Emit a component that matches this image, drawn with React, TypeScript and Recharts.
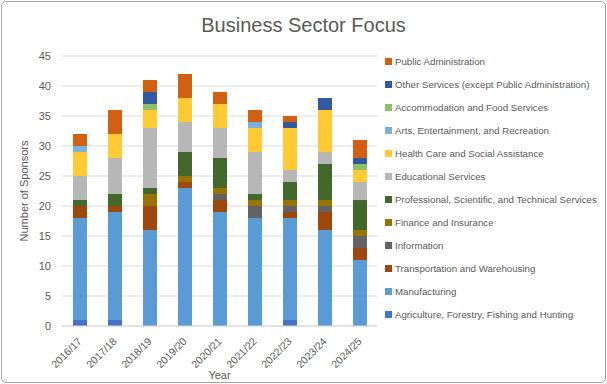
import { Bar, BarChart, CartesianGrid, Label, XAxis, YAxis } from 'recharts';

const years = ['2016/17', '2017/18', '2018/19', '2019/20', '2020/21', '2021/22', '2022/23', '2023/24', '2024/25'];

const agriculture = [1, 1, 0, 0, 0, 0, 1, 0, 0];
const manufacturing = [17, 18, 16, 23, 19, 18, 17, 16, 11];
const transportation = [2, 1, 4, 1, 2, 0, 1, 3, 2];
const information = [0, 0, 0, 0, 1, 2, 1, 1, 2];
const finance = [0, 0, 2, 1, 1, 1, 1, 1, 1];
const professional = [1, 2, 1, 4, 5, 1, 3, 6, 5];
const educational = [4, 6, 10, 5, 5, 7, 2, 2, 3];
const healthCare = [4, 4, 3, 4, 4, 4, 7, 7, 2];
const arts = [1, 0, 0, 0, 0, 1, 0, 0, 0];
const accommodation = [0, 0, 1, 0, 0, 0, 0, 0, 1];
const otherServices = [0, 0, 2, 0, 0, 0, 1, 2, 1];
const publicAdmin = [2, 4, 2, 4, 2, 2, 1, 0, 3];

const yTicks = [0, 5, 10, 15, 20, 25, 30, 35, 40, 45];

const series = [
  { key: 'agriculture', name: 'Agriculture, Forestry, Fishing and Hunting', values: agriculture, color: '#4472C4' },
  { key: 'manufacturing', name: 'Manufacturing', values: manufacturing, color: '#5B9BD5' },
  { key: 'transportation', name: 'Transportation and Warehousing', values: transportation, color: '#9E480E' },
  { key: 'information', name: 'Information', values: information, color: '#636363' },
  { key: 'finance', name: 'Finance and Insurance', values: finance, color: '#997300' },
  { key: 'professional', name: 'Professional, Scientific, and Technical Services', values: professional, color: '#43682B' },
  { key: 'educational', name: 'Educational Services', values: educational, color: '#B7B7B7' },
  { key: 'healthCare', name: 'Health Care and Social Assistance', values: healthCare, color: '#FFCA33' },
  { key: 'arts', name: 'Arts, Entertainment, and Recreation', values: arts, color: '#7CAFDD' },
  { key: 'accommodation', name: 'Accommodation and Food Services', values: accommodation, color: '#8CC168' },
  { key: 'otherServices', name: 'Other Services (except Public Administration)', values: otherServices, color: '#335AA1' },
  { key: 'publicAdmin', name: 'Public Administration', values: publicAdmin, color: '#D26012' },
];

const data = years.map((year, i) => {
  const row: Record<string, string | number> = { year };
  series.forEach((s) => {
    row[s.key] = s.values[i];
  });
  return row;
});

const font = '"Liberation Sans", Arial, sans-serif';
const textColor = '#595959';

const YearTick = ({ x, y, payload }: any) => (
  <text
    transform={`translate(${x + 3},${y + 8}) rotate(-45)`}
    textAnchor="end"
    fontSize={10.5}
    fill={textColor}
    fontFamily={font}
  >
    {payload.value}
  </text>
);

// legend drawn outside the chart so it doesn't eat into the plot width
const SectorLegend = () => (
  <div style={{ position: 'absolute', left: 385, top: 50, fontFamily: font, fontSize: 9.7, color: textColor }}>
    {[...series].reverse().map((s) => (
      <div key={s.key} style={{ display: 'flex', alignItems: 'center', height: 23, whiteSpace: 'nowrap' }}>
        <span style={{ width: 7, height: 7, background: s.color, marginRight: 3, flexShrink: 0 }} />
        {s.name}
      </div>
    ))}
  </div>
);

const App = () => (
  <div style={{ position: 'absolute', left: 0, top: 0, width: 607, height: 384, background: '#fff' }}>
    <div
      style={{
        position: 'absolute',
        left: 1,
        top: 1,
        width: 603,
        height: 380,
        border: '1px solid #A6A6A6',
        borderRadius: 5,
      }}
    />
    <div
      style={{
        position: 'absolute',
        left: 0,
        top: 14,
        width: 607,
        textAlign: 'center',
        fontFamily: font,
        fontSize: 20,
        color: textColor,
      }}
    >
      Business Sector Focus
    </div>
    <BarChart
      width={607}
      height={384}
      data={data}
      margin={{ top: 56, right: 230, bottom: 0, left: 0 }}
      barSize={14}
      style={{ position: 'absolute', left: 0, top: 0 }}
    >
      <CartesianGrid vertical={false} stroke="#D9D9D9" />
      <XAxis
        dataKey="year"
        height={58}
        tick={<YearTick />}
        tickLine={false}
        axisLine={{ stroke: '#D9D9D9' }}
        interval={0}
      >
        <Label value="Year" position="insideBottom" offset={5} fontSize={11} fill={textColor} fontFamily={font} />
      </XAxis>
      <YAxis
        width={62}
        domain={[0, 45]}
        ticks={yTicks}
        tickLine={false}
        axisLine={false}
        tick={{ fontSize: 11, fill: textColor, fontFamily: font, dx: -3 }}
      >
        <Label
          value="Number of Sponsors"
          angle={-90}
          position="insideLeft"
          offset={24}
          style={{ textAnchor: 'middle' }}
          fontSize={11}
          fill={textColor}
          fontFamily={font}
        />
      </YAxis>
      {series.map((s) => (
        <Bar key={s.key} dataKey={s.key} name={s.name} stackId="a" fill={s.color} isAnimationActive={false} />
      ))}
    </BarChart>
    <SectorLegend />
  </div>
);

export default App;
